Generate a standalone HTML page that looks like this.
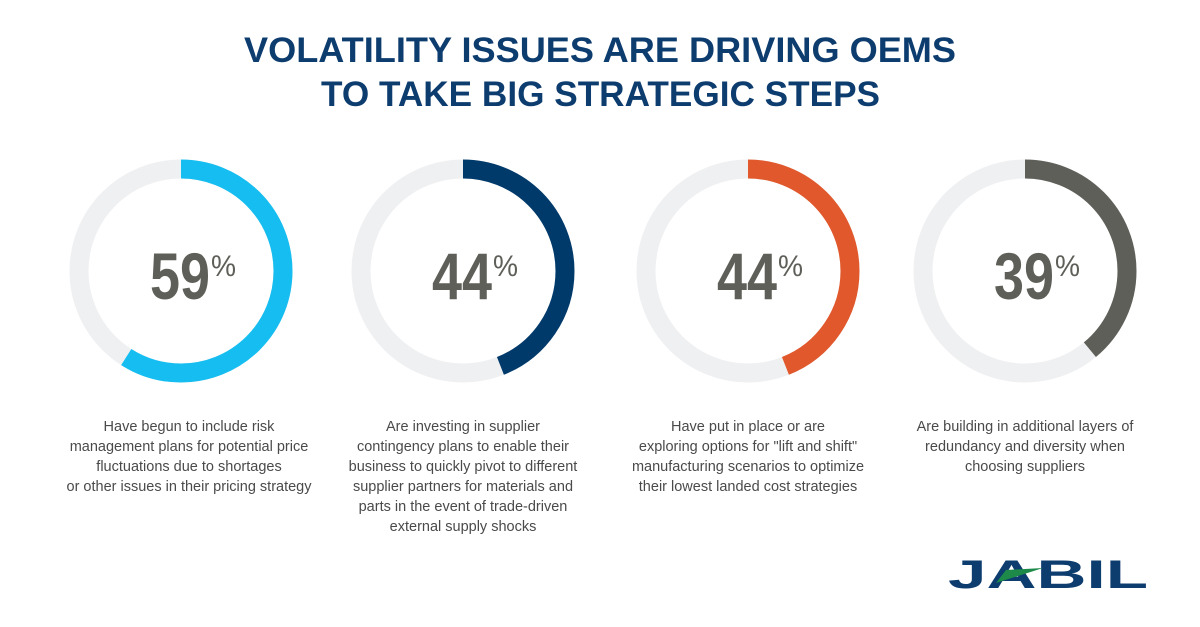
<!DOCTYPE html>
<html><head><meta charset="utf-8"><style>
body{margin:0;background:#fff;}
svg{display:block}
</style></head><body>
<svg width="1200" height="627" viewBox="0 0 1200 627" xmlns="http://www.w3.org/2000/svg">
<g font-family="Liberation Sans, sans-serif" font-weight="bold" fill="#0d3c6e" font-size="35">
<text x="244" y="62" textLength="712" lengthAdjust="spacingAndGlyphs">VOLATILITY ISSUES ARE DRIVING OEMS</text>
<text x="321" y="106" textLength="559" lengthAdjust="spacingAndGlyphs">TO TAKE BIG STRATEGIC STEPS</text>
</g>
<g fill="none" stroke-width="19">
<circle cx="181" cy="271" r="102" stroke="#eff0f2"/>
<circle cx="181" cy="271" r="102" stroke="#16bdf0" stroke-dasharray="378.1 1000" transform="rotate(-90 181 271)"/>
<circle cx="463" cy="271" r="102" stroke="#eff0f2"/>
<circle cx="463" cy="271" r="102" stroke="#003a6b" stroke-dasharray="282 1000" transform="rotate(-90 463 271)"/>
<circle cx="748" cy="271" r="102" stroke="#eff0f2"/>
<circle cx="748" cy="271" r="102" stroke="#e0582b" stroke-dasharray="282 1000" transform="rotate(-90 748 271)"/>
<circle cx="1025" cy="271" r="102" stroke="#eff0f2"/>
<circle cx="1025" cy="271" r="102" stroke="#5f5f59" stroke-dasharray="250 1000" transform="rotate(-90 1025 271)"/>
</g>
<g font-family="Liberation Sans, sans-serif" font-weight="bold" fill="#5f5f59">
<text x="150" y="299" font-size="66" textLength="60" lengthAdjust="spacingAndGlyphs">59</text><text x="211" y="276" font-size="30" textLength="25" lengthAdjust="spacingAndGlyphs" font-weight="normal">%</text>
<text x="432" y="299" font-size="66" textLength="60" lengthAdjust="spacingAndGlyphs">44</text><text x="493" y="276" font-size="30" textLength="25" lengthAdjust="spacingAndGlyphs" font-weight="normal">%</text>
<text x="717" y="299" font-size="66" textLength="60" lengthAdjust="spacingAndGlyphs">44</text><text x="778" y="276" font-size="30" textLength="25" lengthAdjust="spacingAndGlyphs" font-weight="normal">%</text>
<text x="994" y="299" font-size="66" textLength="60" lengthAdjust="spacingAndGlyphs">39</text><text x="1055" y="276" font-size="30" textLength="25" lengthAdjust="spacingAndGlyphs" font-weight="normal">%</text>
</g>
<g font-family="Liberation Sans, sans-serif" font-size="14.5" fill="#4a4a4a" text-anchor="middle">
<text x="189" y="431">Have begun to include risk</text>
<text x="189" y="451">management plans for potential price</text>
<text x="189" y="471">fluctuations due to shortages</text>
<text x="189" y="491">or other issues in their pricing strategy</text>
<text x="463" y="431">Are investing in supplier</text>
<text x="463" y="451">contingency plans to enable their</text>
<text x="463" y="471">business to quickly pivot to different</text>
<text x="463" y="491">supplier partners for materials and</text>
<text x="463" y="511">parts in the event of trade-driven</text>
<text x="463" y="531">external supply shocks</text>
<text x="748" y="431">Have put in place or are</text>
<text x="748" y="451">exploring options for "lift and shift"</text>
<text x="748" y="471">manufacturing scenarios to optimize</text>
<text x="748" y="491">their lowest landed cost strategies</text>
<text x="1025" y="431">Are building in additional layers of</text>
<text x="1025" y="451">redundancy and diversity when</text>
<text x="1025" y="471">choosing suppliers</text>
</g>
<text x="948" y="588" font-family="Liberation Sans, sans-serif" font-weight="bold" font-size="40" fill="#0d3c6e" textLength="200" lengthAdjust="spacingAndGlyphs">JABIL</text>
<polygon points="996,583 1006,570 1043,568" fill="#1d8a4a"/>
</svg>
</body></html>
